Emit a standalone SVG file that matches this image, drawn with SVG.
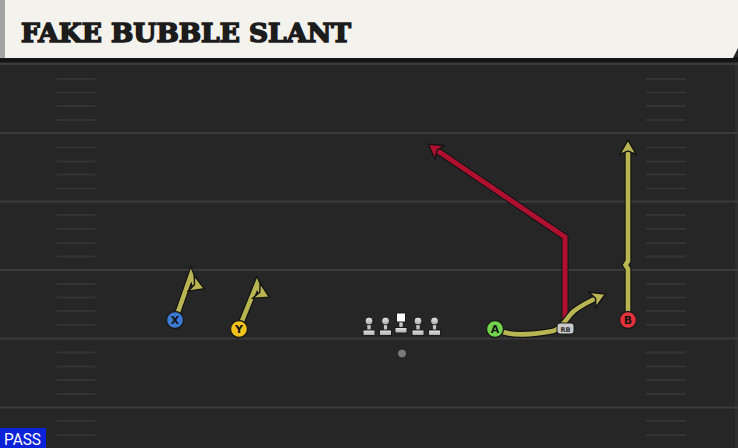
<svg xmlns="http://www.w3.org/2000/svg" width="738" height="448" viewBox="0 0 738 448">
<defs>
<style>
.yard{stroke:#3b3b3b;stroke-width:2;fill:none}
.hash{stroke:#333333;stroke-width:2;stroke-linecap:round;fill:none}
.under{fill:none;stroke:#141414;stroke-width:7;stroke-linejoin:miter;stroke-linecap:butt}
.yel{fill:none;stroke:#b9b552;stroke-width:4.6;stroke-linejoin:miter}
.red{fill:none;stroke:#b01030;stroke-width:5;stroke-linejoin:miter}
.plr{stroke:#1a1a1a;stroke-width:1.3}
.lbl{font-family:"DejaVu Sans","Liberation Sans",sans-serif;font-weight:bold;font-size:11px;fill:#141414;text-anchor:middle}
</style>
<marker id="ay" markerUnits="userSpaceOnUse" markerWidth="19" markerHeight="19" refX="9" refY="8" orient="auto" viewBox="0 0 16 16">
<path d="M1,1 L13,8 L1,15 L4,8 Z" fill="#b9b552" stroke="#141414" stroke-width="1.2" stroke-linejoin="miter"/>
</marker>
<marker id="ar" markerUnits="userSpaceOnUse" markerWidth="19" markerHeight="19" refX="9" refY="8" orient="auto" viewBox="0 0 16 16">
<path d="M1,1 L13,8 L1,15 L4,8 Z" fill="#b01030" stroke="#141414" stroke-width="1.2" stroke-linejoin="miter"/>
</marker>
<linearGradient id="lg" x1="0" y1="0" x2="0" y2="1">
<stop offset="0" stop-color="#e8e8e8"/>
<stop offset="1" stop-color="#a8a8a8"/>
</linearGradient>
</defs>

<!-- field -->
<rect x="0" y="0" width="738" height="448" fill="#262626"/>
<rect x="735" y="60" width="3" height="388" fill="#2e2e2e"/>
<g id="field">
<line class="yard" x1="0" y1="64" x2="738" y2="64"/>
<line class="yard" x1="0" y1="133" x2="738" y2="133"/>
<line class="yard" x1="0" y1="201.5" x2="738" y2="201.5"/>
<line class="yard" x1="0" y1="270" x2="738" y2="270"/>
<line class="yard" x1="0" y1="338.5" x2="738" y2="338.5"/>
<line class="yard" x1="0" y1="407.5" x2="738" y2="407.5"/>
<path class="hash" d="M57,79H95M57,92.5H95M57,106H95M57,120H95M57,147.5H95M57,161.5H95M57,174.5H95M57,188.5H95M57,215H95M57,229H95M57,243H95M57,256.5H95M57,284H95M57,297.5H95M57,311H95M57,325H95M57,352.5H95M57,366.5H95M57,380H95M57,394H95M57,421H95M57,435H95"/>
<path class="hash" d="M647,79H685M647,92.5H685M647,106H685M647,120H685M647,147.5H685M647,161.5H685M647,174.5H685M647,188.5H685M647,215H685M647,229H685M647,243H685M647,256.5H685M647,284H685M647,297.5H685M647,311H685M647,325H685M647,352.5H685M647,366.5H685M647,380H685M647,394H685M647,421H685M647,435H685"/>
</g>

<!-- header -->
<g id="header">
<rect x="0" y="57" width="738" height="5" fill="#141414"/>
<path d="M0,0 H738 V48 L733,58 H0 Z" fill="#f4f2ec"/>
<rect x="0" y="0" width="5" height="58" fill="#a3a3a3"/>
<text x="21" y="42" font-family="'DejaVu Serif','Liberation Serif',serif" font-weight="bold" font-size="26" fill="#1c1c1c" stroke="#1c1c1c" stroke-width="1.6" textLength="330" lengthAdjust="spacingAndGlyphs">FAKE BUBBLE SLANT</text>
</g>

<!-- connectors -->
<g id="routes">
<path class="under" d="M565,326 V237 L432,147"/>
<path class="red" d="M565,326 V237 L432,147" marker-end="url(#ar)"/>
<path class="under" d="M178,312 L191,275 L195,285 L200,287"/>
<path class="yel" d="M178,312 L191,275 L195,285 L200,287" marker-end="url(#ay)"/>
<path class="under" d="M242,321 L257,284 L261,293 L265,295"/>
<path class="yel" d="M242,321 L257,284 L261,293 L265,295" marker-end="url(#ay)"/>
<path class="under" d="M503,332 C515,336 530,335 553,331 C563,328 566,318 574,311 C583,304 592,300 601,296"/>
<path class="yel" d="M503,332 C515,336 530,335 553,331 C563,328 566,318 574,311 C583,304 592,300 601,296" marker-end="url(#ay)"/>
<path class="under" d="M628,312 V269 L625.5,265 L628,261 V145"/>
<path class="yel" d="M628,312 V269 L625.5,265 L628,261 V145" marker-end="url(#ay)"/>
</g>

<!-- players -->
<g id="X"><circle class="plr" cx="175" cy="320" r="8.5" fill="#3d7ad6"/><text class="lbl" x="175" y="324">X</text></g>
<g id="Y"><circle class="plr" cx="239" cy="329" r="8.5" fill="#f2c21c"/><text class="lbl" x="239" y="333">Y</text></g>
<g id="A"><circle class="plr" cx="495" cy="329" r="8.5" fill="#72d44c"/><text class="lbl" x="495" y="333">A</text></g>
<g id="B"><circle class="plr" cx="628" cy="320" r="8.5" fill="#e2323b"/><text class="lbl" x="628" y="324">B</text></g>
<g id="RB"><rect x="557" y="323" width="17" height="11" rx="3" fill="#c9c9c9" stroke="#1a1a1a" stroke-width="1"/><text x="565.5" y="331.5" font-family="'DejaVu Sans','Liberation Sans',sans-serif" font-weight="bold" font-size="6.5" fill="#2a2a2a" text-anchor="middle">RB</text></g>

<g id="line">
<g id="LT"><rect x="366.8" y="323" width="4.4" height="8" fill="url(#lg)" stroke="#1a1a1a" stroke-width="1"/><circle cx="369" cy="321" r="4" fill="url(#lg)" stroke="#1a1a1a" stroke-width="1"/><rect x="363" y="330" width="12" height="5.5" fill="url(#lg)" stroke="#1a1a1a" stroke-width="1"/></g>
<g id="LG"><rect x="383.3" y="323" width="4.4" height="8" fill="url(#lg)" stroke="#1a1a1a" stroke-width="1"/><circle cx="385.5" cy="321" r="4" fill="url(#lg)" stroke="#1a1a1a" stroke-width="1"/><rect x="379.5" y="330" width="12" height="5.5" fill="url(#lg)" stroke="#1a1a1a" stroke-width="1"/></g>
<g id="C"><rect x="398.8" y="321" width="4.4" height="7" fill="url(#lg)" stroke="#1a1a1a" stroke-width="1"/><rect x="396.5" y="313" width="9" height="9" fill="#ffffff" stroke="#1a1a1a" stroke-width="1"/><rect x="395" y="327.5" width="12" height="5.5" fill="url(#lg)" stroke="#1a1a1a" stroke-width="1"/></g>
<g id="RG"><rect x="415.8" y="323" width="4.4" height="8" fill="url(#lg)" stroke="#1a1a1a" stroke-width="1"/><circle cx="418" cy="321" r="4" fill="url(#lg)" stroke="#1a1a1a" stroke-width="1"/><rect x="412" y="330" width="12" height="5.5" fill="url(#lg)" stroke="#1a1a1a" stroke-width="1"/></g>
<g id="RT"><rect x="432.3" y="323" width="4.4" height="8" fill="url(#lg)" stroke="#1a1a1a" stroke-width="1"/><circle cx="434.5" cy="321" r="4" fill="url(#lg)" stroke="#1a1a1a" stroke-width="1"/><rect x="428.5" y="330" width="12" height="5.5" fill="url(#lg)" stroke="#1a1a1a" stroke-width="1"/></g>
</g>
<g id="QB"><circle cx="402" cy="353.5" r="4.5" fill="#7a7a7a" stroke="#1a1a1a" stroke-width="1"/></g>

<g id="pass">
<rect x="0" y="428" width="46" height="20" fill="#0c22d8"/>
<text x="4" y="445" font-family="'Roboto','Liberation Sans',sans-serif" font-size="16" fill="#ffffff" textLength="37" lengthAdjust="spacingAndGlyphs">PASS</text>
</g>
</svg>
